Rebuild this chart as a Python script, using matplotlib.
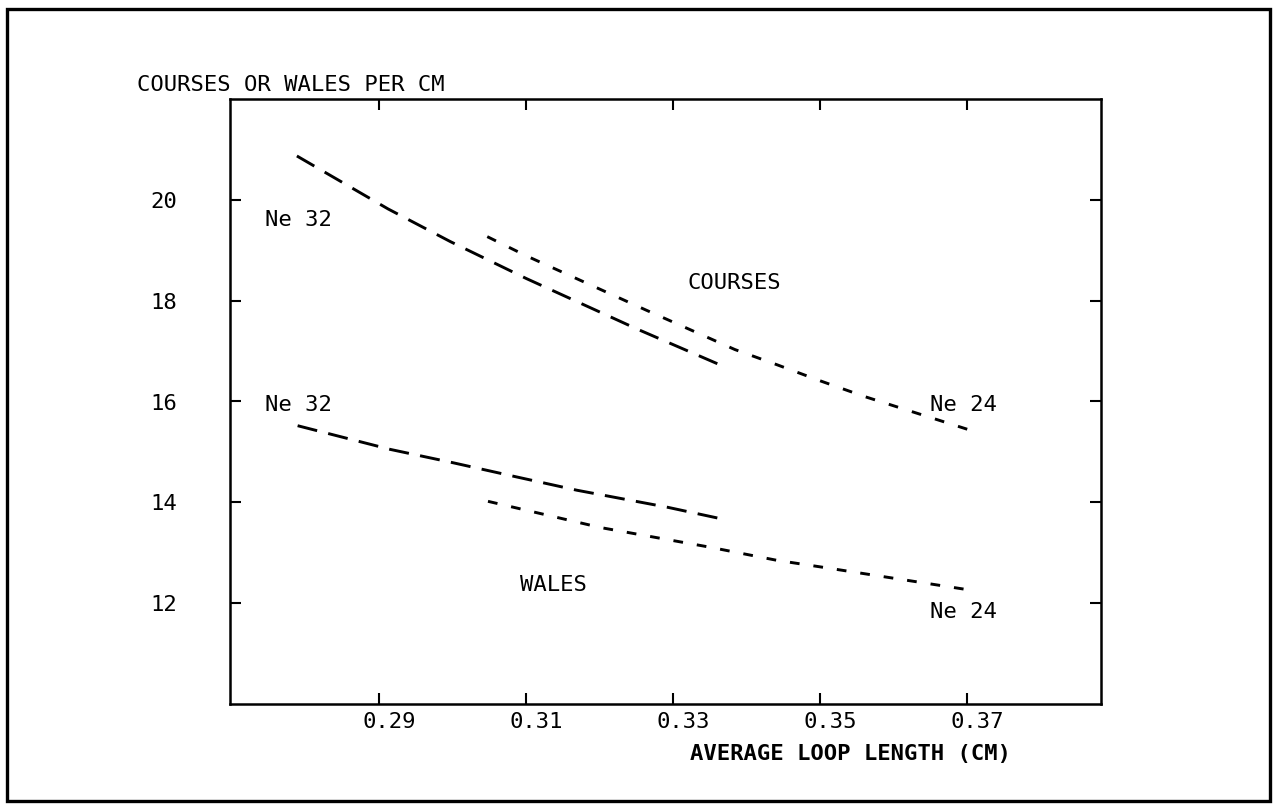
import matplotlib
matplotlib.use("Agg")
import numpy as np
import matplotlib.pyplot as plt
from matplotlib.patches import Rectangle
from matplotlib.transforms import ScaledTranslation

# Courses per cm against average loop length, two yarn counts
courses_ne32_x = [0.2788, 0.2912, 0.2997, 0.3100, 0.3252, 0.3360]
courses_ne32_y = [20.87, 19.82, 19.17, 18.44, 17.43, 16.75]

courses_ne24_x = [0.3047, 0.3100, 0.3262, 0.3384, 0.3441, 0.3500, 0.3560, 0.3700]
courses_ne24_y = [19.27, 18.89, 17.82, 17.03, 16.73, 16.41, 16.10, 15.45]

# Wales per cm against average loop length
wales_ne32_x = [0.2789, 0.2915, 0.2999, 0.3085, 0.3169, 0.3293, 0.3360]
wales_ne32_y = [15.52, 15.05, 14.79, 14.51, 14.24, 13.90, 13.69]

wales_ne24_x = [0.3048, 0.3201, 0.3350, 0.3441, 0.3500, 0.3695]
wales_ne24_y = [14.02, 13.50, 13.11, 12.85, 12.72, 12.28]

x_ticks = [0.29, 0.31, 0.33, 0.35, 0.37]
x_tick_labels = ["0.29", "0.31", "0.33", "0.35", "0.37"]
y_ticks = [12, 14, 16, 18, 20]
y_tick_labels = ["12", "14", "16", "18", "20"]

plt.rcParams["font.family"] = ["DejaVu Sans Mono"]
plt.rcParams["lines.scale_dashes"] = False

W, H = 1277, 808
DPI = 100
fig = plt.figure(figsize=(W / DPI, H / DPI), dpi=DPI)
fig.patch.set_facecolor("white")

# outer frame around the whole figure
fig.patches.append(Rectangle((7 / W, 1 - 801 / H), (1270 - 7) / W, (801 - 9) / H,
                             transform=fig.transFigure, fill=False,
                             edgecolor="black", linewidth=2.4))

ax = fig.add_axes([230 / W, 1 - 704 / H, 871 / W, 605 / H])
ax.set_xlim(0.2697, 0.3882)
ax.set_ylim(10, 22)

long_dash = (14.5, 9.0)
short_dash = (7.0, 10.5)
lw = 2.1


def fitted_dashes(xs, ys, dash):
    """Stretch the gap slightly so the pattern starts and ends on a dash."""
    pts = ax.transData.transform(np.column_stack([xs, ys]))
    length = np.sum(np.hypot(*np.diff(pts, axis=0).T)) * 72 / DPI
    on, off = dash
    n = max(1, round((length - on) / (on + off)))
    period = (length - on) / n
    return (on, period - on)


series = [
    (courses_ne32_x, courses_ne32_y, long_dash),
    (courses_ne24_x, courses_ne24_y, short_dash),
    (wales_ne32_x, wales_ne32_y, long_dash),
    (wales_ne24_x, wales_ne24_y, short_dash),
]
for xs, ys, dash in series:
    ln, = ax.plot(xs, ys, color="black", lw=lw)
    ln.set_dashes(fitted_dashes(xs, ys, dash))
    ln.set_dash_capstyle("butt")

for s in ax.spines.values():
    s.set_linewidth(1.8)

fs = 16
ax.set_xticks(x_ticks)
ax.set_xticklabels(x_tick_labels)
ax.set_yticks(y_ticks)
ax.set_yticklabels(y_tick_labels)
ax.tick_params(axis="x", direction="in", length=8, width=1.5, top=True,
               labelsize=fs, pad=6)
ax.tick_params(axis="y", direction="in", length=8, width=1.5, right=True,
               labelsize=fs, pad=38)
# plotter labels sit a little to the right of their ticks
shift = ScaledTranslation(0.10, 0, fig.dpi_scale_trans)
for lab in ax.get_xticklabels():
    lab.set_transform(lab.get_transform() + shift)

ax.text(0.2745, 19.60, "Ne 32", fontsize=fs, ha="left", va="center")
ax.text(0.3320, 18.36, "COURSES", fontsize=fs, ha="left", va="center")
ax.text(0.2745, 15.94, "Ne 32", fontsize=fs, ha="left", va="center")
ax.text(0.3650, 15.94, "Ne 24", fontsize=fs, ha="left", va="center")
ax.text(0.3092, 12.36, "WALES", fontsize=fs, ha="left", va="center")
ax.text(0.3650, 11.82, "Ne 24", fontsize=fs, ha="left", va="center")

fig.text(137 / W, 1 - 85 / H, "COURSES OR WALES PER CM", fontsize=fs,
         ha="left", va="center")
fig.text(851 / W, 1 - 754 / H, "AVERAGE LOOP LENGTH (CM)", fontsize=fs,
         fontweight="bold", ha="center", va="center")

fig.savefig("out.png", dpi=DPI)
